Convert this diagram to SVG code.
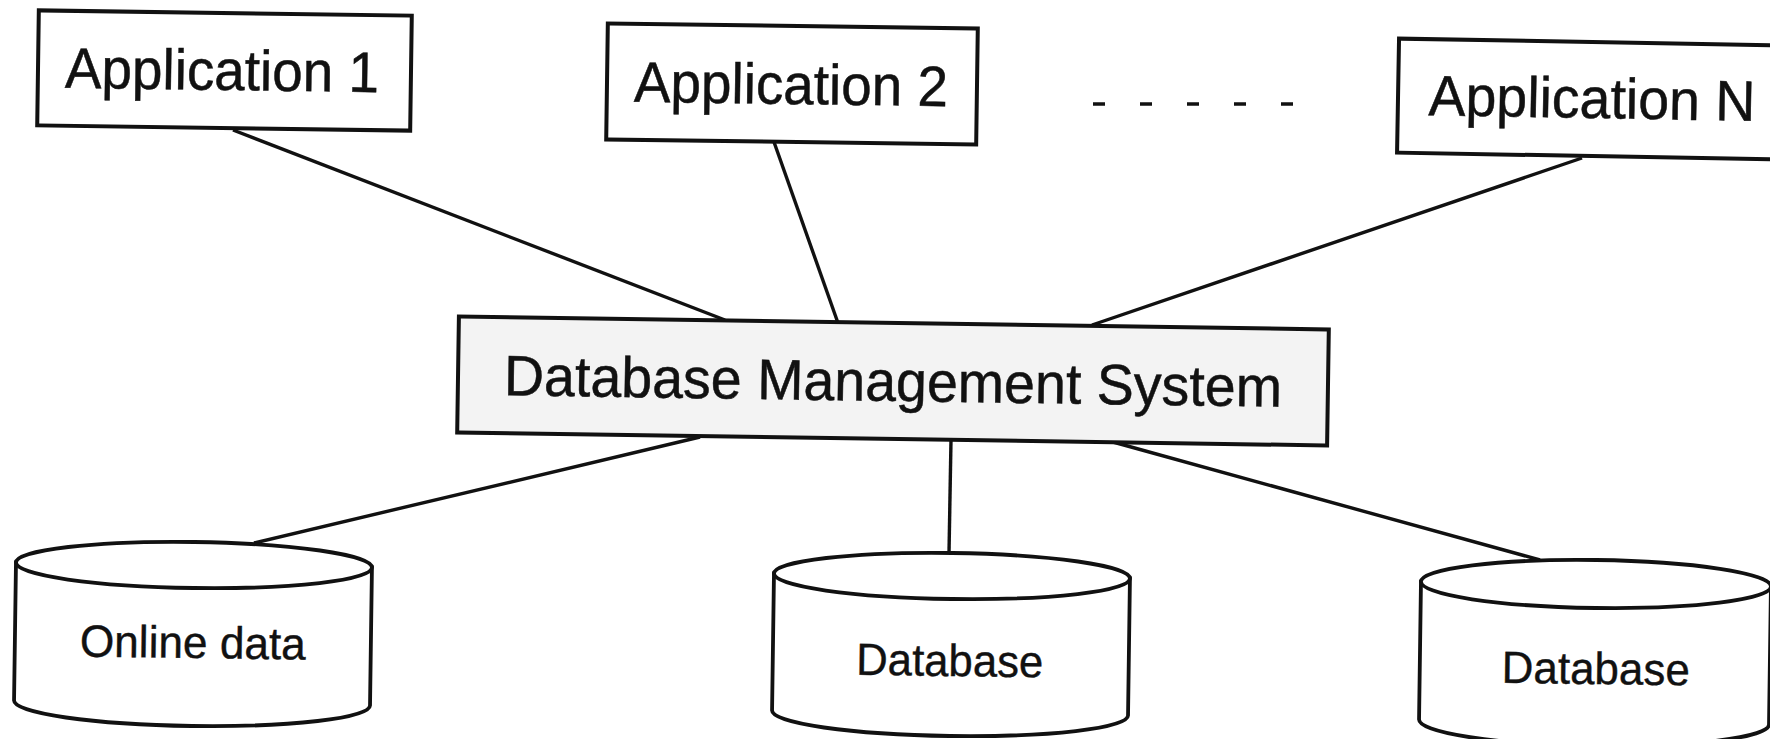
<svg xmlns="http://www.w3.org/2000/svg" width="1770" height="739" viewBox="0 0 1770 739">
<style>
.box{fill:#ffffff;stroke:#111;stroke-width:4}
.dbms{fill:#f3f3f3;stroke:#111;stroke-width:4}
.cyl{fill:#ffffff;stroke:#111;stroke-width:3.8}
.conn{stroke:#111;stroke-width:3.4;fill:none}
.lbl{font-family:"Liberation Sans",Arial,sans-serif;font-size:57px;fill:#111;stroke:#111;stroke-width:0.5;text-anchor:middle}
.slbl{font-family:"Liberation Sans",Arial,sans-serif;font-size:45px;fill:#111;stroke:#111;stroke-width:0.4;text-anchor:middle}
</style>
<rect width="1770" height="739" fill="#ffffff"/>
<g id="connectors">
<line class="conn" x1="233" y1="130" x2="725" y2="320"/>
<line class="conn" x1="774" y1="142" x2="838" y2="323"/>
<line class="conn" x1="1582" y1="158" x2="1092" y2="325"/>
<line class="conn" x1="700" y1="437" x2="254" y2="543"/>
<line class="conn" x1="951" y1="440" x2="949" y2="553"/>
<line class="conn" x1="1113" y1="442" x2="1540" y2="560"/>
<line class="conn" x1="1093" y1="104" x2="1295" y2="104" stroke-dasharray="12 35" stroke-width="3.5"/>
</g>
<g id="app1" transform="rotate(0.8 224.5 70.5)">
<rect class="box" x="38" y="13" width="373" height="115"/>
<text class="lbl" x="222" y="90" textLength="314" lengthAdjust="spacingAndGlyphs">Application 1</text>
</g>
<g id="app2" transform="rotate(0.8 792 84)">
<rect class="box" x="607" y="26" width="370" height="116"/>
<text class="lbl" x="791" y="104" textLength="314" lengthAdjust="spacingAndGlyphs">Application 2</text>
</g>
<g id="appN" transform="rotate(1 1590 100)">
<rect class="box" x="1398" y="42" width="390" height="114"/>
<text class="lbl" x="1592" y="118" textLength="327" lengthAdjust="spacingAndGlyphs">Application N</text>
</g>
<g id="dbms" transform="rotate(0.85 893 381)">
<rect class="dbms" x="458" y="323" width="870" height="116"/>
<text class="lbl" x="893" y="401" textLength="778" lengthAdjust="spacingAndGlyphs">Database Management System</text>
</g>
<g id="online" transform="rotate(0.8 193 634)">
<path class="cyl" d="M15,565 L15,703 A178,23 0 0 0 371,703 L371,565 Z"/>
<ellipse class="cyl" cx="193" cy="565" rx="178" ry="23"/>
<text class="slbl" x="193" y="658" textLength="226" lengthAdjust="spacingAndGlyphs">Online data</text>
</g>
<g id="db1" transform="rotate(0.8 951 645)">
<path class="cyl" d="M773,576 L773,713 A178,23 0 0 0 1129,713 L1129,576 Z"/>
<ellipse class="cyl" cx="951" cy="576" rx="178" ry="23"/>
<text class="slbl" x="950" y="676" textLength="187" lengthAdjust="spacingAndGlyphs">Database</text>
</g>
<g id="db2" transform="rotate(0.8 1594 653)">
<path class="cyl" d="M1420,584 L1420,722 A175,24 0 0 0 1770,722 L1770,584 Z"/>
<ellipse class="cyl" cx="1595" cy="584" rx="175" ry="24"/>
<text class="slbl" x="1596" y="684" textLength="188" lengthAdjust="spacingAndGlyphs">Database</text>
</g>
</svg>
